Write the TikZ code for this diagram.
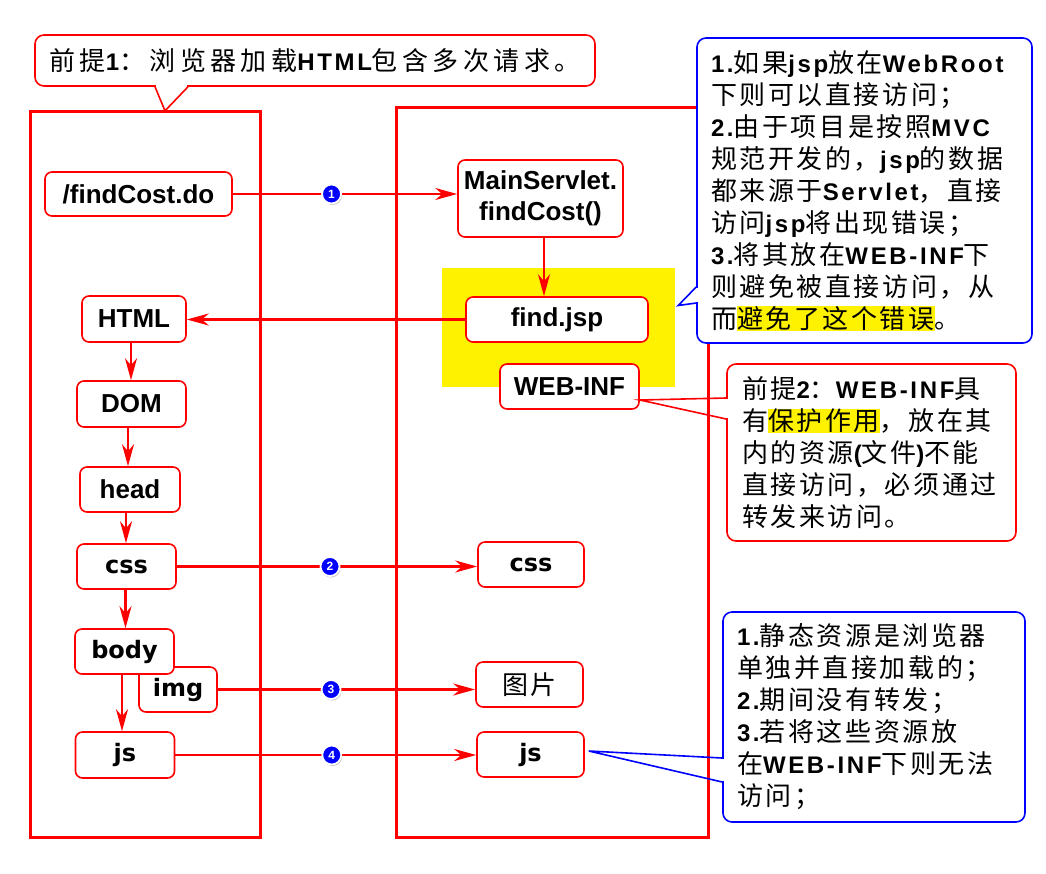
\documentclass[tikz,border=0pt]{standalone}
\usepackage{fontspec}
\setmainfont{Liberation Sans}
\newfontfamily\enfont{Liberation Sans}
\newfontfamily\ennote{Liberation Sans}[LetterSpace=11]
\newfontfamily\vfont{DejaVu Sans}
\newfontfamily\zhnote{Noto Sans CJK SC}[LetterSpace=10]
\newfontfamily\zhtop{Noto Sans CJK SC}[LetterSpace=17]
\usetikzlibrary{arrows.meta, positioning, shadows, calc}

\newcommand{\en}[1]{{\ennote\bfseries\fontsize{24}{32}\selectfont #1}}
\newcommand{\hl}[1]{{\setlength{\fboxsep}{0pt}\colorbox{yellow}{#1}}}

\begin{document}
\begin{tikzpicture}[x=1pt, y=-1pt,
  box/.style={draw=red, line width=1.6pt, rounded corners=7pt, fill=white, inner sep=0pt, align=center,
    font=\enfont\bfseries\fontsize{26}{31}\selectfont},
  tagbox/.style={box, font=\vfont\bfseries\fontsize{24}{30}\selectfont},
  flow/.style={draw=red, line width=2.2pt, -{Stealth[length=22pt,width=12pt,inset=7pt]}},
  badge/.style={circle, fill=blue, draw=white, line width=1.8pt, minimum size=19pt, inner sep=0pt, text=white,
    font=\enfont\bfseries\fontsize{12}{12}\selectfont,
    drop shadow={shadow xshift=1pt, shadow yshift=-1.5pt, fill=black!45}},
  frame/.style={draw=red, line width=3pt, inner sep=0pt},
  note/.style={line width=1.6pt, rounded corners=9pt, fill=white, align=left, inner sep=0pt,
    font=\zhnote\fontsize{26}{32}\selectfont},
  pointer/.style={line width=1.6pt, line join=miter}]
  \useasboundingbox (0,0) rectangle (1046,873);

  % browser and server
  \node[frame, minimum width=230pt, minimum height=726pt] (client) at (145,474) {};
  \node[frame, minimum width=312pt, minimum height=730pt] (server) at (552,472) {};
  \node[fill=yellow, minimum width=233pt, minimum height=119pt, inner sep=0pt] (shield) at (558.5,327.5) {};

  % request side
  \node[box, minimum width=187pt, minimum height=44pt] (fcdo) at (138.5,194) {/findCost.do};
  \node[box, minimum width=165pt, minimum height=77pt] (ms) at (540.5,198.5) {MainServlet.\\findCost()};
  \node[box, minimum width=182pt, minimum height=45pt] (fj) at (557,319.5) {find.jsp};
  \node[box, minimum width=139pt, minimum height=45pt] (webinf) at (569.5,386.5) {WEB-INF};

  % page parts
  \node[box, minimum width=104pt, minimum height=46pt] (html) at (134,319) {HTML};
  \node[box, minimum width=109pt, minimum height=46pt] (dom) at (131.5,404) {DOM};
  \node[box, minimum width=100pt, minimum height=45pt] (head) at (130,489.5) {head};
  \node[tagbox, minimum width=99pt, minimum height=45pt] (cssl) at (126.5,566.5) {css};
  \node[tagbox, minimum width=78pt, minimum height=45pt] (img) at (178,689.5) {img};
  \node[tagbox, minimum width=99pt, minimum height=45pt] (body) at (124.5,651.5) {body};
  \node[tagbox, minimum width=99pt, minimum height=46pt] (jsl) at (125,755) {js};

  % static files
  \node[tagbox, minimum width=106pt, minimum height=45pt] (cssr) at (531,564.5) {css};
  \node[box, minimum width=107pt, minimum height=45pt, font=\zhnote\fontsize{26}{30}\selectfont] (pic) at (529.5,684.5) {图片};
  \node[tagbox, minimum width=107pt, minimum height=45pt] (jsr) at (530.5,754.5) {js};

  % connectors
  \draw[flow] (fcdo.east) -- node[badge, pos=0.44] (n1) {1} (fcdo.east -| ms.west);
  \draw[flow] (ms.south -| 544,0) -- (fj.north -| 544,0);
  \draw[flow] (fj.west) -- (fj.west -| html.east);
  \draw[flow] (html.south -| 131,0) -- (dom.north -| 131,0);
  \draw[flow] (dom.south -| 128,0) -- (head.north -| 128,0);
  \draw[flow] (head.south -| 126,0) -- (cssl.north -| 126,0);
  \draw[flow] (cssl.south -| 125.5,0) -- (body.north -| 125.5,0);
  \draw[flow] (body.south -| 122,0) -- (jsl.north -| 122,0);
  \draw[flow] (cssl.east) -- node[badge, pos=0.51] (n2) {2} (cssl.east -| cssr.west);
  \draw[flow] (img.east) -- node[badge, pos=0.44] (n3) {3} (img.east -| pic.west);
  \draw[flow] (jsl.east) -- node[badge, pos=0.52] (n4) {4} (jsl.east -| jsr.west);

  % premise 1
  \node[note, draw=red, align=center, minimum width=560pt, minimum height=51pt,
    font=\zhtop\fontsize{26}{32}\selectfont] (premise) at (315,60.5)
    {前提\en{1}：浏览器加载\en{HTML}包含多次请求。};
  \coordinate (t1) at ($(premise.south)+(-160,0)$);
  \coordinate (t2) at ($(premise.south)+(-127,0)$);
  \coordinate (ttip) at ($(premise.south)+(-150,24)$);
  \fill[white] ($(t1)+(1,-2)$) rectangle ($(t2)+(-1,2)$);
  \draw[pointer, red] (t1) -- (ttip) -- (t2);

  % why WEB-INF
  \node[note, draw=blue, minimum width=335pt, minimum height=305pt, text width=307pt] (whyinf) at (864.5,190.5)
    {\en{1.}如果\en{jsp}放在\en{WebRoot}\\
     下则可以直接访问；\\
     \en{2.}由于项目是按照\en{MVC}\\
     规范开发的，\en{jsp}的数据\\
     都来源于\en{Servlet}，直接\\
     访问\en{jsp}将出现错误；\\
     \en{3.}将其放在\en{WEB-INF}下\\
     则避免被直接访问，从\\
     而\hl{避免了这个错误}。};
  \coordinate (a1) at ($(whyinf.west)+(0,96.5)$);
  \coordinate (a2) at ($(whyinf.west)+(0,112.5)$);
  \coordinate (atip) at ($(whyinf.west)+(-18,115)$);
  \fill[white] ($(a1)+(-2,1)$) rectangle ($(a2)+(2,-1)$);
  \draw[pointer, blue] (a1) -- (atip) -- (a2);

  % premise 2
  \node[note, draw=red, minimum width=289pt, minimum height=177pt, text width=259pt] (protect) at (871.5,452.5)
    {前提\en{2}：\en{WEB-INF}具\\
     有\hl{保护作用}，放在其\\
     内的资源\en{(}文件\en{)}不能\\
     直接访问，必须通过\\
     转发来访问。};
  \coordinate (b1) at ($(protect.west)+(0,-54.5)$);
  \coordinate (b2) at ($(protect.west)+(0,-33.5)$);
  \coordinate (btip) at ($(webinf.east)+(0,13.5)$);
  \fill[white] ($(b1)+(-2,1)$) rectangle ($(b2)+(2,-1)$);
  \draw[pointer, red] (b1) -- (btip) -- (b2);

  % static resources
  \node[note, draw=blue, minimum width=302pt, minimum height=210pt, text width=274pt] (static) at (874,717)
    {\en{1.}静态资源是浏览器\\
     单独并直接加载的；\\
     \en{2.}期间没有转发；\\
     \en{3.}若将这些资源放\\
     在\en{WEB-INF}下则无法\\
     访问；};
  \coordinate (c1) at ($(static.west)+(0,41)$);
  \coordinate (c2) at ($(static.west)+(0,65)$);
  \coordinate (ctip) at ($(jsr.east)+(4,-3.5)$);
  \fill[white] ($(c1)+(-2,1)$) rectangle ($(c2)+(2,-1)$);
  \draw[pointer, blue] (c1) -- (ctip) -- (c2);
\end{tikzpicture}
\end{document}
